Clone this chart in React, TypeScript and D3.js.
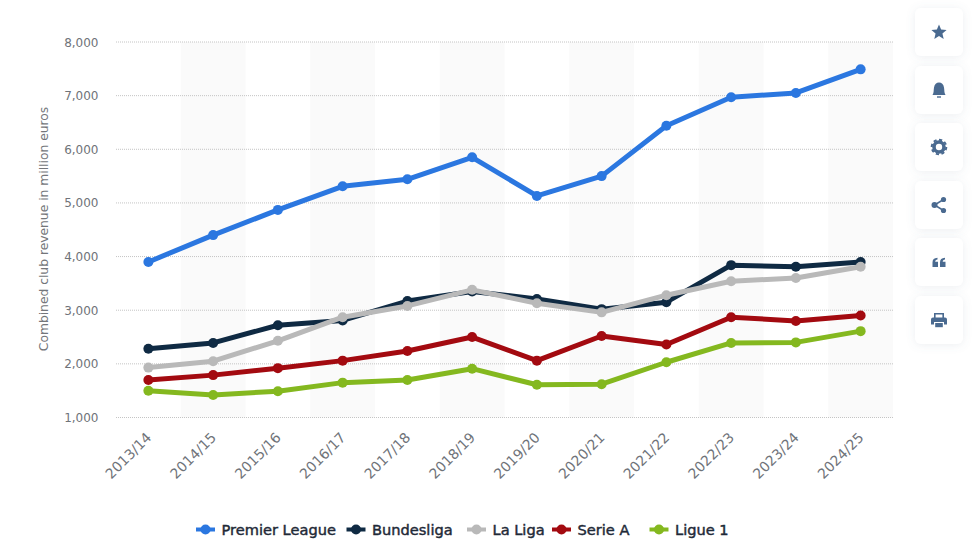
import React, { useEffect } from "react";
import * as d3 from "d3";

const seasons = ["2013/14", "2014/15", "2015/16", "2016/17", "2017/18", "2018/19", "2019/20", "2020/21", "2021/22", "2022/23", "2023/24", "2024/25"];
const yTicks = [1000, 2000, 3000, 4000, 5000, 6000, 7000, 8000];

const premierLeague = [3900, 4400, 4870, 5310, 5440, 5850, 5130, 5500, 6440, 6970, 7050, 7490];
const bundesliga = [2280, 2390, 2720, 2810, 3170, 3350, 3210, 3020, 3150, 3840, 3810, 3900];
const laLiga = [1930, 2050, 2430, 2870, 3080, 3380, 3130, 2960, 3280, 3540, 3600, 3810];
const serieA = [1700, 1790, 1920, 2060, 2240, 2500, 2060, 2520, 2360, 2870, 2800, 2900];
const ligue1 = [1500, 1420, 1490, 1650, 1700, 1910, 1610, 1620, 2030, 2390, 2400, 2610];

const seriesNames = ["Premier League", "Bundesliga", "La Liga", "Serie A", "Ligue 1"];
const seriesValues = [premierLeague, bundesliga, laLiga, serieA, ligue1];
const seriesColors = ["#2b77e0", "#0f2a43", "#b9b9b9", "#a30a10", "#84b81f"];

const width = 973;
const height = 556;
const marginLeft = 116;
const marginRight = 80;
const marginTop = 42;
const marginBottom = 138.5;
const font = "'DejaVu Sans', Verdana, sans-serif";
const legendX = [196, 346.5, 467, 552, 649.5];
const buttonY = [8, 66, 123, 181, 238, 296];
const iconColor = "#4a6a90";

// the six grey icons in the side bar, drawn in a 20x20 box
const Icon: React.FC<{ index: number }> = ({ index }) => {
    if (index === 0) {
        const star = d3.range(10).map(i => {
            const r = i % 2 === 0 ? 8 : 3.6;
            const a = (i * Math.PI) / 5 - Math.PI / 2;
            return [10 + r * Math.cos(a), 10.5 + r * Math.sin(a)];
        });
        return <polygon points={star.join(" ")} fill={iconColor} />;
    }
    if (index === 1) {
        return (
            <g fill={iconColor}>
                <path d="M3.5 15 C5 13 4.5 10 5 7.5 C5.5 4 7.5 2.5 10 2.5 C12.5 2.5 14.5 4 15 7.5 C15.5 10 15 13 16.5 15 Z" />
                <rect x={8} y={16.3} width={4} height={1.4} />
            </g>
        );
    }
    if (index === 2) {
        return (
            <g>
                <circle cx={10} cy={10} r={5} fill="none" stroke={iconColor} strokeWidth={3.6} />
                <circle cx={10} cy={10} r={7.3} fill="none" stroke={iconColor} strokeWidth={2} strokeDasharray="3.2 2.5" />
            </g>
        );
    }
    if (index === 3) {
        return (
            <g fill={iconColor} stroke={iconColor}>
                <path d="M14.5 4.5 L5.5 10 L14.5 15.5" fill="none" strokeWidth={1.5} />
                <circle cx={14.5} cy={4.5} r={2.6} stroke="none" />
                <circle cx={5.5} cy={10} r={3} stroke="none" />
                <circle cx={14.5} cy={15.5} r={2.6} stroke="none" />
            </g>
        );
    }
    if (index === 4) {
        return (
            <g fill={iconColor}>
                <path d="M3.5 15 V10.5 C3.5 7.5 5 6 8.5 5.8 V7.6 C7 7.8 6.3 8.4 6.2 9.8 H9 V15 Z" />
                <path d="M11 15 V10.5 C11 7.5 12.5 6 16 5.8 V7.6 C14.5 7.8 13.8 8.4 13.7 9.8 H16.5 V15 Z" />
            </g>
        );
    }
    return (
        <g fill={iconColor}>
            <path d="M5 8 V3 H15 V8 H13.4 V4.6 H6.6 V8 Z" />
            <path d="M4 7.5 H16 Q18 7.5 18 9.5 V14.5 H15 V12 H5 V14.5 H2 V9.5 Q2 7.5 4 7.5 Z" />
            <rect x={6.2} y={13} width={7.6} height={4.2} />
        </g>
    );
};

const App: React.FC = () => {
    useEffect(() => {
        document.body.style.margin = "0";
    }, []);

    const xScale = d3.scalePoint<string>()
        .domain(seasons)
        .range([marginLeft, width - marginRight])
        .padding(0.5);
    const band = xScale.step();

    const yScale = d3.scaleLinear()
        .domain([1000, 8000])
        .range([height - marginBottom, marginTop]);

    const line = d3.line<number>()
        .x((_, i) => xScale(seasons[i])!)
        .y(d => yScale(d));

    return (
        <svg width={width} height={height} style={{ display: "block", background: "#fff" }} fontFamily={font}>
            <defs>
                <filter id="card" x="-30%" y="-30%" width="160%" height="160%">
                    <feDropShadow dx={0} dy={1} stdDeviation={4} floodColor="#6a7f99" floodOpacity={0.13} />
                </filter>
            </defs>

            {/* Alternating column bands */}
            {seasons.map((s, i) => i % 2 === 1 && (
                <rect
                    key={s}
                    x={xScale(s)! - band / 2}
                    y={marginTop}
                    width={band}
                    height={height - marginBottom - marginTop}
                    fill="#fafafa"
                />
            ))}

            {/* Grid lines and y axis */}
            {yTicks.map(t => (
                <g key={t}>
                    <line
                        x1={marginLeft}
                        x2={width - marginRight}
                        y1={yScale(t)}
                        y2={yScale(t)}
                        stroke="#c4c4c4"
                        strokeDasharray="1 1"
                    />
                    <text x={98.5} y={yScale(t) + 4.5} textAnchor="end" fontSize={12} fill="#6f7379">
                        {d3.format(",")(t)}
                    </text>
                </g>
            ))}
            <text
                transform="translate(48,229) rotate(-90)"
                textAnchor="middle"
                fontSize={12.3}
                fill="#73767a"
            >
                Combined club revenue in million euros
            </text>

            {/* X axis */}
            {seasons.map(s => (
                <text
                    key={s}
                    transform={`translate(${xScale(s)! + 4},${height - marginBottom + 21}) rotate(-45)`}
                    textAnchor="end"
                    fontSize={14}
                    fill="#6f7379"
                >
                    {s}
                </text>
            ))}

            {/* Lines */}
            {seriesNames.map((name, k) => (
                <g key={name}>
                    <path
                        d={line(seriesValues[k])!}
                        fill="none"
                        stroke={seriesColors[k]}
                        strokeWidth={5}
                        strokeLinejoin="round"
                    />
                    {seriesValues[k].map((v, i) => (
                        <circle key={i} cx={xScale(seasons[i])!} cy={yScale(v)} r={5} fill={seriesColors[k]} />
                    ))}
                </g>
            ))}

            {/* Legend */}
            {seriesNames.map((name, k) => (
                <g key={name} transform={`translate(${legendX[k]},529.5)`}>
                    <line x1={0} x2={19} y1={0} y2={0} stroke={seriesColors[k]} strokeWidth={4} />
                    <circle cx={9.5} cy={0} r={5} fill={seriesColors[k]} />
                    <text x={25.5} y={5} fontSize={14.6} fill="#1f2a38" stroke="#1f2a38" strokeWidth={0.45}>
                        {name}
                    </text>
                </g>
            ))}

            {/* Side buttons */}
            {buttonY.map((y, i) => (
                <g key={y} transform={`translate(915,${y})`}>
                    <rect width={48} height={48} rx={6} fill="#fff" filter="url(#card)" />
                    <g transform="translate(14,14)">
                        <Icon index={i} />
                    </g>
                </g>
            ))}
        </svg>
    );
};

export default App;
